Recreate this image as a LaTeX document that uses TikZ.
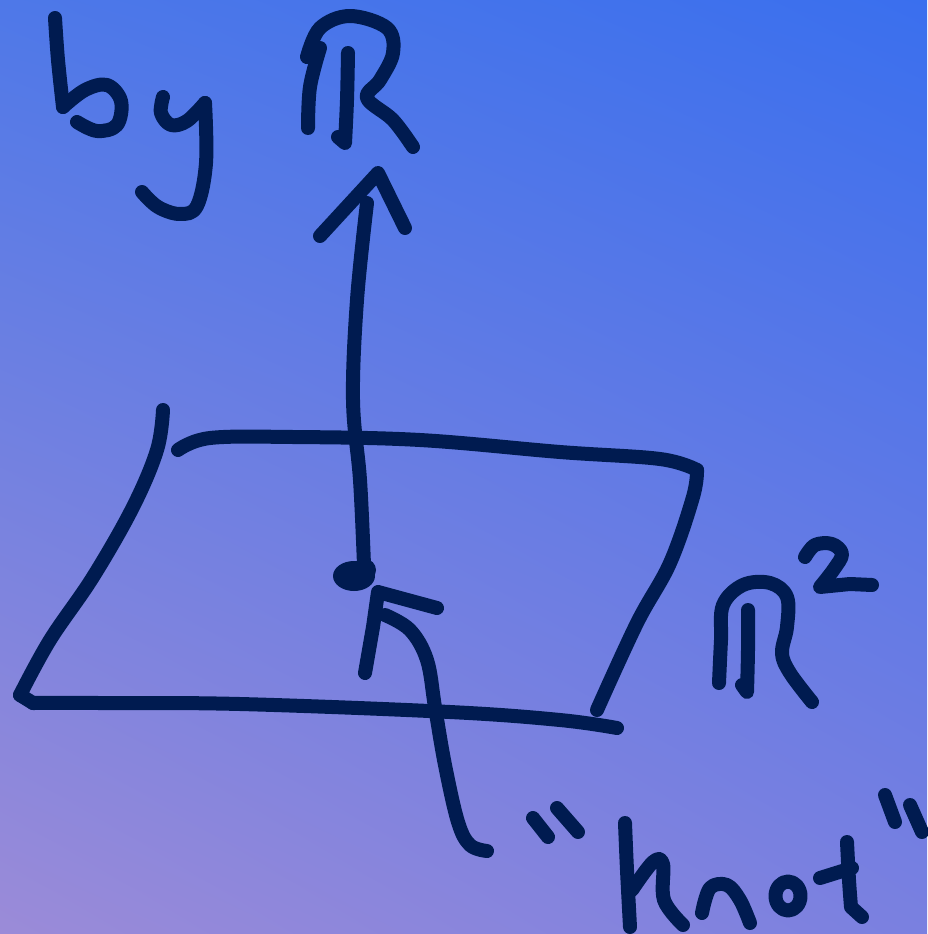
\documentclass[tikz,border=0pt]{standalone}
\usetikzlibrary{shadings}
\definecolor{navy}{HTML}{001B50}
\definecolor{bgTR}{HTML}{3A6FEE}
\definecolor{bgTL}{HTML}{4E78E8}
\definecolor{bgBR}{HTML}{7A80E0}
\definecolor{bgBL}{HTML}{9B8BD8}
\tikzset{
  ink/.style={draw=navy, line width=14pt, line cap=round, line join=round},
  sm/.style={smooth, tension=0.6}
}
\begin{document}
\begin{tikzpicture}[x=1pt,y=-1pt]
\useasboundingbox (0,0) rectangle (927,934);
\shade[upper right=bgTR, upper left=bgTL, lower right=bgBR, lower left=bgBL] (0,0) rectangle (927,934);
% "by R"
\draw[ink] plot[sm] coordinates {(55,18) (58,60) (63,107)};
\draw[ink] plot[sm] coordinates {(63,107) (85,90) (107,85) (121,101) (117,125) (97,131) (77,122)};
\draw[ink] plot[sm] coordinates {(163,97) (161,113) (171,125) (187,121) (205,103)};
\draw[ink] plot[sm] coordinates {(205,103) (206,163) (197,206) (180,214) (158,207) (142,192)};
\draw[ink] plot[sm] coordinates {(320,48) (310,87) (308,128)};
\draw[ink] plot[sm] coordinates {(307,57) (320,28) (350,16) (387,28) (393,53) (380,80) (367,98) (393,120) (413,147)};
\draw[ink] plot[sm] coordinates {(348,53) (347,100) (345,143)} -- (338,137);
% upward arrow
\coordinate (tip) at (378,173);
\coordinate (blob) at (354,576);
\draw[ink] (320,236) -- (tip) -- (405,228);
\draw[ink] plot[sm] coordinates {(367,203) (357,300) (353,400) (360,480) (364,565)};
\fill[navy] (blob) ellipse (21 and 15);
\fill[navy] (365,570) circle (11);
% plane
\draw[ink] plot[sm] coordinates {(178,450) (210,438) (293,437) (420,440) (560,452) (660,459) (697,470)};
\draw[ink] plot[sm] coordinates {(697,470) (693,497) (670,563) (637,623) (597,710)};
\draw[ink] plot[sm] coordinates {(163,410) (157,450) (133,507) (93,577) (50,640) (20,695)};
\draw[ink] (20,695) -- (33,703);
\draw[ink] plot[sm] coordinates {(33,703) (100,703) (240,704) (450,712) (560,720) (617,728)};
% R^2
\draw[ink] plot[sm] coordinates {(719,683) (721,640) (723,605) (743,585) (770,583) (787,597) (787,627) (782,653) (790,673) (812,702)};
\draw[ink] plot[sm] coordinates {(748,610) (748,650) (747,692)} -- (742,685);
\draw[ink] plot[sm] coordinates {(805,557) (815,545) (832,544) (842,554) (834,569) (820,587)} -- (850,584) -- (872,585);
% knot arrow
\coordinate (kv) at (378,592);
\draw[ink] (437,608) -- (kv) -- (373,627) -- (365,673);
\draw[ink] plot[sm] coordinates {(385,615) (410,630) (427,660) (435,707) (445,765) (458,822) (470,845) (487,851)};
% "knot"
\draw[ink] (533,818) -- (548,837);
\draw[ink] (557,808) -- (578,832);
\draw[ink] plot[sm] coordinates {(625,823) (627,870) (630,927)};
\draw[ink] plot[sm] coordinates {(632,890) (653,862) (663,864) (664,900) (683,925)};
\draw[ink] plot[sm] coordinates {(702,913) (710,888) (727,885) (740,900) (750,923)};
\draw[ink] (788,896) ellipse (12.5 and 14.5);
\draw[ink] plot[sm] coordinates {(847,842) (849,880) (851,907)} -- (862,917);
\draw[ink] (820,878) -- (852,868);
\draw[ink] (885,795) -- (895,822);
\draw[ink] (910,805) -- (922,832);
\end{tikzpicture}
\end{document}
